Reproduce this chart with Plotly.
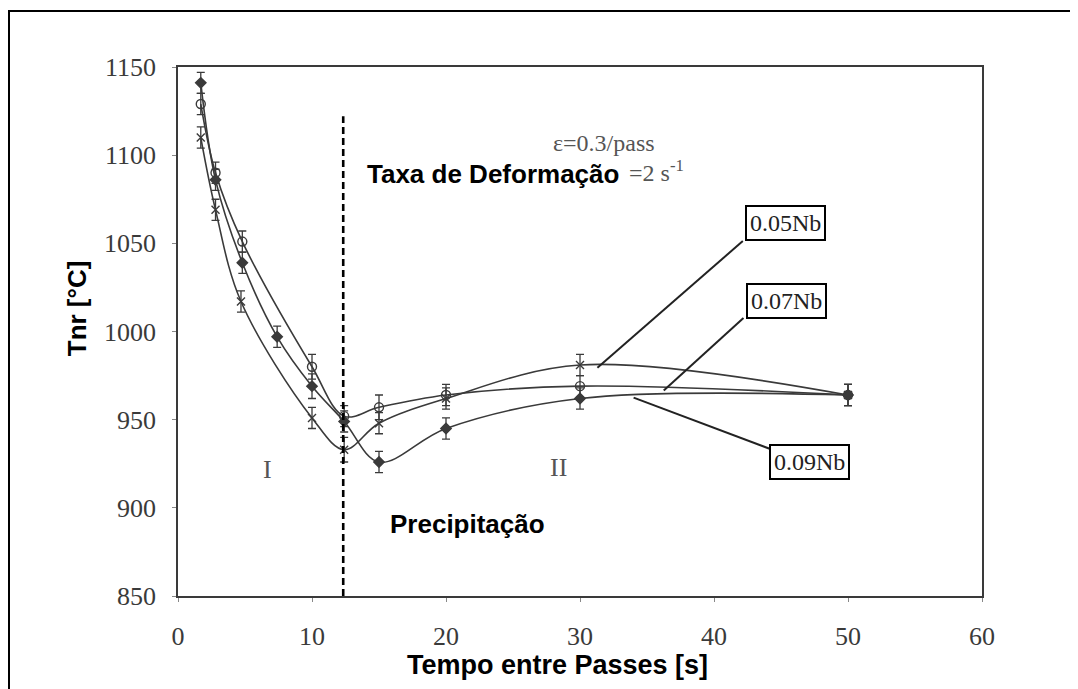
import plotly.graph_objects as go

# ---- data ----
x_005 = [1.7, 2.8, 4.7, 10.0, 12.4, 15.0, 20.0, 30.0, 50.0]
y_005 = [1110, 1069, 1017, 951, 933, 948, 962, 981, 964]
e_005 = [6, 6, 6, 6, 7, 6, 6, 6, 6]

x_007 = [1.7, 2.8, 4.8, 10.0, 12.4, 15.0, 20.0, 30.0, 50.0]
y_007 = [1129, 1090, 1051, 980, 952, 957, 964, 969, 964]
e_007 = [6, 6, 6, 7, 6, 7, 6, 6, 6]

x_009 = [1.7, 2.8, 4.8, 7.4, 10.0, 12.4, 15.0, 20.0, 30.0, 50.0]
y_009 = [1141, 1086, 1039, 997, 969, 949, 926, 945, 962, 964]
e_009 = [6, 6, 6, 6, 7, 6, 6, 6, 6, 6]

x_ticks = [0, 10, 20, 30, 40, 50, 60]
y_ticks = [850, 900, 950, 1000, 1050, 1100, 1150]

series_labels = ["0.05Nb", "0.07Nb", "0.09Nb"]

INK = "#3a3a3a"
SERIF = "Liberation Serif, Times New Roman, serif"
SANS = "Liberation Sans, Arial, sans-serif"

fig = go.Figure()

def add_series(xs, ys, es, symbol, size, name):
    fig.add_trace(go.Scatter(
        x=xs, y=ys, mode="lines+markers", name=name,
        line=dict(color=INK, width=1.6, shape="spline", smoothing=1.0),
        marker=dict(symbol=symbol, size=size, color=INK,
                    line=dict(color=INK, width=1.4)),
        error_y=dict(type="data", array=es, visible=True,
                     color=INK, thickness=1.3, width=4),
        showlegend=False,
    ))

add_series(x_005, y_005, e_005, "x-thin-open", 8, series_labels[0])
add_series(x_007, y_007, e_007, "circle-open", 9, series_labels[1])
add_series(x_009, y_009, e_009, "diamond", 8, series_labels[2])

axis_common = dict(
    showline=True, linecolor=INK, linewidth=1.6, mirror=True,
    showgrid=False, zeroline=False, ticks="outside", ticklen=4,
    tickcolor="#888", tickfont=dict(family=SERIF, size=26, color=INK),
)

fig.update_xaxes(range=[0, 60], tickvals=x_ticks, ticklabelstandoff=12,
                 **axis_common)
fig.update_yaxes(range=[850, 1150], tickvals=y_ticks, ticklabelstandoff=11,
                 **axis_common)

shapes = []
# vertical dashed separation line
shapes.append(dict(type="line", xref="x", yref="y", x0=12.33, x1=12.33,
                   y0=850, y1=1122,
                   line=dict(color="black", width=2.6, dash="7px,4px")))
# leader lines from labels to curves
leaders = [
    ((42.15, 1051.3), (31.3, 979.5)),
    ((42.2, 1007.7), (36.25, 966.5)),
    ((44.2, 933.4), (34.0, 962.5)),
]
for (xa, ya), (xb, yb) in leaders:
    shapes.append(dict(type="line", xref="x", yref="y", x0=xa, y0=ya,
                       x1=xb, y1=yb, line=dict(color="#222", width=2)))
# outer frame of the figure
shapes.append(dict(type="rect", xref="paper", yref="paper",
                   x0=-0.2102, x1=1.6, y0=-0.6, y1=1.106,
                   line=dict(color="black", width=2), layer="below"))

annotations = []
box_pos = [(45.37, 1061.5), (45.44, 1017.3), (47.16, 926.0)]
for lab, (bx, by) in zip(series_labels, box_pos):
    annotations.append(dict(x=bx, y=by, xref="x", yref="y", text=lab,
                            showarrow=False,
                            font=dict(family=SERIF, size=24, color="#222"),
                            bgcolor="white", bordercolor="black",
                            borderwidth=2, borderpad=3))

annotations += [
    dict(x=31.8, y=1107, xref="x", yref="y", text="ε=0.3/pass",
         showarrow=False, font=dict(family=SERIF, size=24, color="#555")),
    dict(x=13.98, y=1089.5, xref="x", yref="y", text="Taxa de Deformação",
         xanchor="left", showarrow=False,
         font=dict(family=SANS, size=26, color="black", weight="bold")),
    dict(x=33.5, y=1091.2, xref="x", yref="y", text="=2 s<sup>-1</sup>",
         xanchor="left", showarrow=False,
         font=dict(family=SERIF, size=24, color="#555")),
    dict(x=15.7, y=891, xref="x", yref="y", text="Precipitação",
         xanchor="left", showarrow=False,
         font=dict(family=SANS, size=26, color="black", weight="bold")),
    dict(x=6.65, y=921.5, xref="x", yref="y", text="I", showarrow=False,
         font=dict(family=SERIF, size=26, color="#555")),
    dict(x=28.4, y=923, xref="x", yref="y", text="II", showarrow=False,
         font=dict(family=SERIF, size=26, color="#555")),
    dict(x=-0.1256, y=0.544, xref="paper", yref="paper", text="Tnr [°C]",
         textangle=-90, showarrow=False, xanchor="center", yanchor="middle",
         font=dict(family=SANS, size=26, color="black", weight="bold")),
    dict(x=0.4726, y=-0.130, xref="paper", yref="paper",
         text="Tempo entre Passes [s]", showarrow=False,
         xanchor="center", yanchor="middle",
         font=dict(family=SANS, size=27, color="black", weight="bold")),
]

# page adds an 8px body margin, so the figure is 8px smaller on each side
fig.update_layout(
    width=1070, height=681, autosize=False,
    margin=dict(l=170, r=96, t=59, b=93),
    paper_bgcolor="white", plot_bgcolor="white",
    shapes=shapes, annotations=annotations,
)

fig.write_html("out.html")
